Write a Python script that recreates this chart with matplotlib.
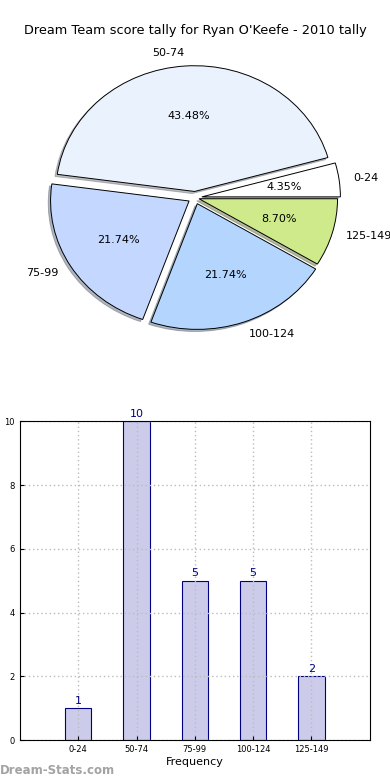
import matplotlib
matplotlib.use("Agg")
import matplotlib.pyplot as plt

categories = ["0-24", "50-74", "75-99", "100-124", "125-149"]
counts = [1, 10, 5, 5, 2]
pie_colors = ["#ffffff", "#eaf2fe", "#c4d7fe", "#b4d6fe", "#cfea8a"]
explode = [0.05, 0.05, 0.05, 0.05, 0.03]
title = "Dream Team score tally for Ryan O'Keefe - 2010 tally"

fig = plt.figure(figsize=(3.9, 7.8), dpi=100)

ax1 = fig.add_axes([0.056, 0.545, 0.888, 0.403])
wedges, texts, autotexts = ax1.pie(
    counts, labels=categories, colors=pie_colors, explode=explode,
    autopct="%.2f%%", shadow=dict(ox=-0.012, oy=-0.012, shade=0.5),
    startangle=0, counterclock=True,
    wedgeprops=dict(edgecolor="black", linewidth=0.7),
    textprops=dict(fontsize=8))
ax1.set_aspect("auto")
ax1.set_xlim(-1.25, 1.25)
ax1.set_ylim(-1.25, 1.25)
fig.text(0.5, 0.961, title, ha="center", va="center", fontsize=9.3)

ax2 = fig.add_axes([0.051, 0.051, 0.897, 0.409])
x = list(range(len(categories)))
bars = ax2.bar(x, counts, width=0.45, color="#ccccea", edgecolor="#000080",
               linewidth=0.8, zorder=2)
for xi, c in zip(x, counts):
    ax2.text(xi, c + 0.08, str(c), ha="center", va="bottom", color="#000080",
             fontsize=8)
ax2.set_xlim(-1, 5)
ax2.set_ylim(0, 10)
ax2.set_xticks(x)
ax2.set_xticklabels(categories, fontsize=6)
ax2.set_yticks([0, 2, 4, 6, 8, 10])
ax2.tick_params(axis="y", labelsize=6, direction="in", length=3)
ax2.tick_params(axis="x", direction="in", length=3)
ax2.grid(True, linestyle=(0, (1, 2)), color="#bbbbbb", linewidth=1)
ax2.set_axisbelow(False)
for s in ax2.spines.values():
    s.set_zorder(5)
ax2.set_xlabel("Frequency", fontsize=8, labelpad=2)
ax2.set_ylabel("Dream Team Points", fontsize=8, labelpad=10)

fig.text(0.0, 0.012, "Dream-Stats.com", color="#999999", fontsize=8.5,
         ha="left", va="center", fontweight="bold", alpha=0.9)

fig.savefig("out.png", dpi=100)
